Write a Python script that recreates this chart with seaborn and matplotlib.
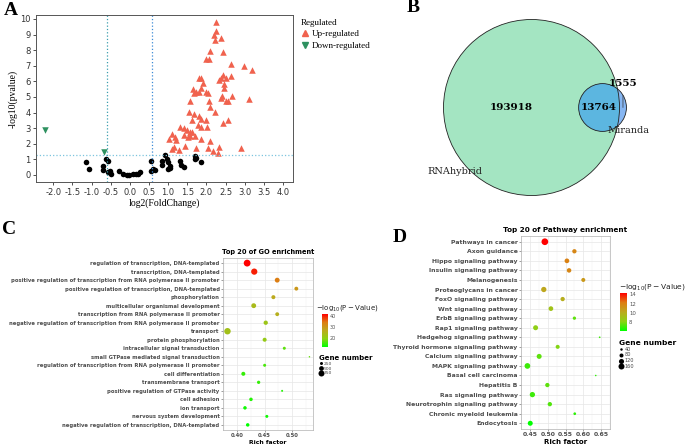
import numpy as np
import pandas as pd
import matplotlib
matplotlib.use("Agg")
import matplotlib.pyplot as plt
import seaborn as sns
from matplotlib.patches import Circle
from matplotlib.colors import LinearSegmentedColormap, Normalize
from matplotlib.cm import ScalarMappable
from matplotlib.lines import Line2D

# ---------------- A: volcano data ----------------
up_fc = [2.24, 2.26, 2.20, 2.22, 2.37, 2.43, 2.08, 1.99, 2.06, 2.63, 2.99, 3.19,
         1.85, 1.80, 1.91, 2.42, 2.37, 2.34, 2.50, 2.65, 2.46, 2.46, 1.65, 1.87,
         1.74, 1.81, 1.68, 1.98, 2.04, 1.58, 2.07, 2.40, 2.39, 2.66, 3.11, 2.50,
         2.57, 2.10, 2.22, 1.55, 1.68, 1.80, 1.86, 1.98, 1.63, 2.57, 2.43, 1.77,
         1.87, 2.02, 1.30, 1.42, 1.48, 1.57, 1.62, 1.52, 1.58, 1.69, 1.42, 1.10,
         1.17, 1.21, 1.02, 1.87, 2.09, 1.43, 1.15, 1.10, 1.28, 1.74, 2.04, 2.33,
         2.90, 2.16, 2.29]
up_p = [9.78, 9.25, 8.97, 8.65, 8.80, 7.90, 7.96, 7.46, 7.40, 7.10, 7.00, 6.70,
        6.24, 6.22, 5.90, 6.39, 6.24, 6.06, 6.20, 6.32, 5.80, 5.60, 5.53, 5.60,
        5.30, 5.33, 5.27, 5.29, 5.25, 4.77, 4.71, 5.05, 4.95, 5.07, 4.88, 4.73,
        4.73, 4.34, 4.06, 4.02, 3.91, 3.80, 3.59, 3.53, 3.53, 3.53, 3.31, 3.20,
        3.10, 3.05, 3.05, 2.99, 2.88, 2.77, 2.77, 2.41, 2.52, 2.52, 2.58, 2.62,
        2.41, 2.24, 2.30, 2.30, 2.15, 1.87, 1.81, 1.66, 1.59, 1.76, 1.72, 1.81,
        1.70, 1.51, 1.44]
down_fc = [-2.22, -0.68]
down_p = [2.90, 1.50]
ns_fc = [-1.15, -1.06, -0.70, -0.70, -0.61, -0.57, -0.56, -0.51, -0.48, -0.29,
         -0.19, -0.07, -0.02, 0.07, 0.17, 0.22, 0.26, 0.55, 0.55, 0.60, 0.66,
         0.83, 0.84, 0.93, 0.96, 1.00, 1.04, 0.99, 1.06, 1.32, 1.33, 1.42, 1.70,
         1.72, 1.85, 1.70]
ns_p = [0.80, 0.37, 0.58, 0.30, 1.01, 0.90, 0.19, 0.26, 0.09, 0.26, 0.04, 0.00,
        0.02, 0.04, 0.09, 0.04, 0.17, 0.90, 0.26, 0.37, 0.30, 0.90, 0.65, 1.27,
        1.01, 0.80, 0.58, 0.37, 0.43, 0.90, 0.62, 0.52, 1.23, 1.08, 0.80, 1.01]

# ---------------- B: venn counts ----------------
venn_names = ["RNAhybrid", "Miranda"]
only_rnahybrid = 193918
overlap = 13764
only_miranda = 1555

# ---------------- C: GO enrichment ----------------
go_terms = [
    "regulation of transcription, DNA-templated",
    "transcription, DNA-templated",
    "positive regulation of transcription from RNA polymerase II promoter",
    "positive regulation of transcription, DNA-templated",
    "phosphorylation",
    "multicellular organismal development",
    "transcription from RNA polymerase II promoter",
    "negative regulation of transcription from RNA polymerase II promoter",
    "transport",
    "protein phosphorylation",
    "intracellular signal transduction",
    "small GTPase mediated signal transduction",
    "regulation of transcription from RNA polymerase II promoter",
    "cell differentiation",
    "transmembrane transport",
    "positive regulation of GTPase activity",
    "cell adhesion",
    "ion transport",
    "nervous system development",
    "negative regulation of transcription, DNA-templated",
]
go_rich = [0.418, 0.431, 0.473, 0.508, 0.466, 0.430, 0.473, 0.452, 0.382, 0.450,
           0.486, 0.532, 0.450, 0.411, 0.439, 0.482, 0.425, 0.414, 0.454, 0.419]
go_logp = [41.8, 40.0, 34.0, 30.0, 27.0, 24.0, 26.0, 22.0, 23.0, 21.0,
           17.0, 17.5, 16.0, 15.0, 15.0, 14.0, 14.0, 13.0, 13.0, 12.1]
go_count = [950, 800, 520, 360, 380, 520, 360, 425, 850, 380,
            250, 124, 250, 380, 283, 156, 309, 309, 250, 309]

# ---------------- D: pathway enrichment ----------------
kegg_terms = [
    "Pathways in cancer", "Axon guidance", "Hippo signaling pathway",
    "Insulin signaling pathway", "Melanogenesis", "Proteoglycans in cancer",
    "FoxO signaling pathway", "Wnt signaling pathway", "ErbB signaling pathway",
    "Rap1 signaling pathway", "Hedgehog signaling pathway",
    "Thyroid hormone signaling pathway", "Calcium signaling pathway",
    "MAPK signaling pathway", "Basal cell carcinoma", "Hepatitis B",
    "Ras signaling pathway", "Neurotrophin signaling pathway",
    "Chronic myeloid leukemia", "Endocytosis",
]
kegg_rich = [0.492, 0.575, 0.554, 0.560, 0.600, 0.489, 0.542, 0.509, 0.575, 0.466,
             0.646, 0.528, 0.476, 0.443, 0.635, 0.499, 0.457, 0.506, 0.576, 0.451]
kegg_logp = [14.3, 11.8, 12.0, 11.8, 11.0, 10.3, 10.0, 9.0, 7.5, 8.3,
             7.0, 8.0, 7.5, 7.0, 6.8, 7.5, 7.0, 7.3, 6.8, 6.1]
kegg_count = [196, 90, 104, 97, 80, 128, 90, 104, 59, 116,
              27, 80, 116, 146, 25, 90, 128, 90, 45, 116]

W, H = 685, 444
fig = plt.figure(figsize=(W / 100, H / 100), dpi=100)


def px_axes(x0, y0, x1, y1):
    return fig.add_axes([x0 / W, 1 - y1 / H, (x1 - x0) / W, (y1 - y0) / H])


serif = "Liberation Serif"
grad = LinearSegmentedColormap.from_list(
    "gr", ["#00ff00", "#8cd214", "#bcaa1e", "#de7c12", "#ff0000"])

# ================= A =================
ax = px_axes(36, 15, 293, 182)
ns_df = pd.DataFrame({"fc": ns_fc, "p": ns_p})
up_df = pd.DataFrame({"fc": up_fc, "p": up_p})
dn_df = pd.DataFrame({"fc": down_fc, "p": down_p})
sns.scatterplot(data=ns_df, x="fc", y="p", color="black", marker="o", s=16,
                linewidth=0, ax=ax)
sns.scatterplot(data=up_df, x="fc", y="p", color="#f0624e", marker="^", s=22,
                linewidth=0, ax=ax)
sns.scatterplot(data=dn_df, x="fc", y="p", color="#2e9160", marker="v", s=22,
                linewidth=0, ax=ax)
ax.axvline(-0.585, ls=":", lw=0.9, color="#3b9fae")
ax.axvline(0.585, ls=":", lw=0.9, color="#3a8ad6")
ax.axhline(1.3, ls=":", lw=0.9, color="#7cc4de")
ax.set_xlim(-2.45, 4.26)
ax.set_ylim(-0.45, 10.25)
ax.set_xticks(np.arange(-2.0, 4.01, 0.5))
ax.set_yticks(range(0, 11))
ax.xaxis.set_major_formatter(matplotlib.ticker.FormatStrFormatter("%.1f"))
ax.tick_params(labelsize=6, colors="#333333", length=2.5, width=0.6, pad=1.5)
for s in ax.spines.values():
    s.set_color("#555555")
    s.set_linewidth(0.7)
ax.set_xlabel("log2(FoldChange)", family=serif, fontsize=7, labelpad=1)
ax.set_ylabel("-log10(pvalue)", family=serif, fontsize=7, labelpad=2)
handles = [Line2D([], [], marker="^", ls="", color="#f0624e", markersize=5),
           Line2D([], [], marker="v", ls="", color="#2e9160", markersize=5)]
fig.legend(handles, ["Up-regulated", "Down-regulated"], title="Regulated",
           loc="upper left", bbox_to_anchor=(296 / W, 1 - 14 / H), frameon=False,
           prop={"family": serif, "size": 6.5},
           title_fontproperties={"family": serif, "size": 6.5},
           alignment="left", handletextpad=0.2, handlelength=1.0,
           borderpad=0, labelspacing=0.4)

# ================= B =================
axb = px_axes(420, 5, 685, 212)
axb.axis("off")
r1 = np.sqrt((only_rnahybrid + overlap) / np.pi)
r2 = np.sqrt((only_miranda + overlap) / np.pi)


def lens(d):
    a1 = np.arccos((d * d + r1 * r1 - r2 * r2) / (2 * d * r1))
    a2 = np.arccos((d * d + r2 * r2 - r1 * r1) / (2 * d * r2))
    k = np.sqrt((-d + r1 + r2) * (d + r1 - r2) * (d - r1 + r2) * (d + r1 + r2))
    return r1 * r1 * a1 + r2 * r2 * a2 - 0.5 * k


lo, hi = r1 - r2 + 1e-9, r1 + r2 - 1e-9
for _ in range(80):
    mid = (lo + hi) / 2
    if lens(mid) > overlap:
        lo = mid
    else:
        hi = mid
dist = (lo + hi) / 2

sc = r1 / 88.0
cx, cy = 531.5, 107.5
axb.set_xlim(-(cx - 420) * sc, (685 - cx) * sc)
axb.set_ylim(-(212 - cy) * sc, (cy - 5) * sc)
big = Circle((0, 0), r1, fc="#a4e5c2", ec="none")
axb.add_patch(big)
small = Circle((dist, 0), r2, fc="#86b6f2", ec="none")
axb.add_patch(small)
inter = Circle((dist, 0), r2, fc="#5cb6e0", ec="none")
axb.add_patch(inter)
inter.set_clip_path(big)
axb.add_patch(Circle((0, 0), r1, fill=False, ec="#222222", lw=0.6))
axb.add_patch(Circle((dist, 0), r2, fill=False, ec="#222222", lw=0.6))
bold = dict(family="DejaVu Serif", fontsize=7.5, fontweight="bold",
            ha="center", va="center")
axb.text(-20 * sc, 0, f"{only_rnahybrid}", **bold)
axb.text((dist - r2 + r1) / 2, 0, f"{overlap}", **bold)
xm = (r1 + dist + r2) / 2
axb.annotate(f"{only_miranda}", xy=(xm, 0), xytext=(xm, (cy - 84) * sc),
             ha="center", va="center", fontfamily="DejaVu Serif", fontsize=7.5,
             fontweight="bold",
             arrowprops=dict(arrowstyle="-", lw=0.5, color="#333333",
                             shrinkA=3, shrinkB=0))
axb.text((455 - cx) * sc, (cy - 171.5) * sc, venn_names[0], family="DejaVu Serif",
         fontsize=7, ha="center", va="center", color="#222222")
axb.text((628 - cx) * sc, (cy - 130.5) * sc, venn_names[1], family="DejaVu Serif",
         fontsize=7, ha="center", va="center", color="#222222")


# ================= C / D helper =================
def dot_panel(box, terms, rich, logp, count, size_norm, sizes, xticks, xlim,
              title, fs_lab, fs_title):
    axd = px_axes(*box)
    df = pd.DataFrame({"term": terms, "rich": rich, "logp": logp, "n": count})
    pos = np.arange(len(terms))
    df["pos"] = pos
    norm = Normalize(min(logp), max(logp))
    sns.scatterplot(data=df, x="rich", y="pos", hue="logp", palette=grad,
                    hue_norm=norm, size="n", sizes=sizes, size_norm=size_norm,
                    linewidth=0, legend=False, ax=axd, zorder=3)
    axd.set_ylim(len(terms) - 0.4, -0.6)
    axd.set_yticks(pos)
    axd.set_yticklabels(terms)
    axd.set_xlim(*xlim)
    axd.set_xticks(xticks)
    axd.set_xticks([(a + b) / 2 for a, b in zip(xticks[:-1], xticks[1:])]
                   + [xticks[0] - (xticks[1] - xticks[0]) / 2,
                      xticks[-1] + (xticks[1] - xticks[0]) / 2], minor=True)
    axd.xaxis.set_major_formatter(matplotlib.ticker.FormatStrFormatter("%.2f"))
    axd.grid(True, which="major", color="#e6e6e6", lw=0.5)
    axd.grid(True, which="minor", axis="x", color="#f0f0f0", lw=0.3)
    axd.set_axisbelow(True)
    axd.tick_params(which="minor", length=0)
    axd.tick_params(axis="y", labelsize=fs_lab, colors="#555555", length=1.5,
                    width=0.4, pad=1)
    axd.tick_params(axis="x", labelsize=fs_lab, colors="#555555", length=1.5,
                    width=0.4, pad=1)
    for t in axd.get_yticklabels() + axd.get_xticklabels():
        t.set_fontweight("bold")
        t.set_color("#4d4d4d")
    for s in axd.spines.values():
        s.set_color("#b0b0b0")
        s.set_linewidth(0.5)
    axd.set_xlabel("Rich factor", fontsize=fs_lab + 0.6, fontweight="bold",
                   labelpad=1)
    axd.set_ylabel("")
    axd.set_title(title, fontsize=fs_title, fontweight="bold", pad=3)
    return norm


def color_legend(norm, box, ticks, title_xy, fs):
    cax = px_axes(*box)
    cb = fig.colorbar(ScalarMappable(norm=norm, cmap=grad), cax=cax)
    cb.outline.set_visible(False)
    cb.set_ticks(ticks)
    cax.tick_params(labelsize=fs - 1.5, colors="#555555", length=0, pad=1.5)
    fig.text(title_xy[0] / W, 1 - title_xy[1] / H,
             r"$-\mathrm{log}_{10}(\mathrm{P}-\mathrm{Value})$",
             fontsize=fs, va="center", ha="left", color="#222222")


def size_legend(vals, size_norm, sizes, anchor, fs):
    hs = []
    for v in vals:
        s = sizes[0] + (v - size_norm[0]) / (size_norm[1] - size_norm[0]) * (sizes[1] - sizes[0])
        hs.append(Line2D([], [], marker="o", ls="", color="black",
                         markersize=np.sqrt(s), markeredgewidth=0))
    leg = fig.legend(hs, [str(v) for v in vals], title="Gene number",
                     loc="upper left", bbox_to_anchor=(anchor[0] / W, 1 - anchor[1] / H),
                     frameon=False, prop={"size": fs - 1.8},
                     title_fontproperties={"size": fs, "weight": "bold"},
                     alignment="left", handletextpad=0.3, handlelength=0.8,
                     borderpad=0, labelspacing=0.15, borderaxespad=0)
    for t in leg.get_texts():
        t.set_color("#444444")


# ================= C =================
c_norm_size = (100, 1000)
c_sizes = (0.5, 25.7)
c_norm = dot_panel((223, 258, 313, 430), go_terms, go_rich, go_logp, go_count,
                   c_norm_size, c_sizes, [0.40, 0.45, 0.50], (0.3738, 0.5385),
                   "Top 20 of GO enrichment", 3.8, 4.8)
color_legend(c_norm, (322, 314, 328, 347), [20, 30, 40], (316, 308), 5)
size_legend([250, 500, 750], c_norm_size, c_sizes, (319, 355), 5)

# ================= D =================
d_norm_size = (20, 200)
d_sizes = (0.58, 23.8)
d_norm = dot_panel((521, 236, 610, 429), kegg_terms, kegg_rich, kegg_logp,
                   kegg_count, d_norm_size, d_sizes,
                   [0.45, 0.50, 0.55, 0.60, 0.65], (0.436, 0.654),
                   "Top 20 of Pathway enrichment", 4.4, 5.2)
color_legend(d_norm, (620, 293, 627, 331), [8, 10, 12, 14], (619, 287), 5.4)
size_legend([40, 80, 120, 160], d_norm_size, d_sizes, (619, 340), 5.4)

# panel letters
for letter, (x, y) in zip("ABCD", [(10.5, 10.5), (413, 8), (9, 229), (400, 237)]):
    fig.text(x / W, 1 - y / H, letter, family=serif, fontweight="bold",
             fontsize=14, ha="center", va="center")

fig.savefig("out.png", dpi=100)
